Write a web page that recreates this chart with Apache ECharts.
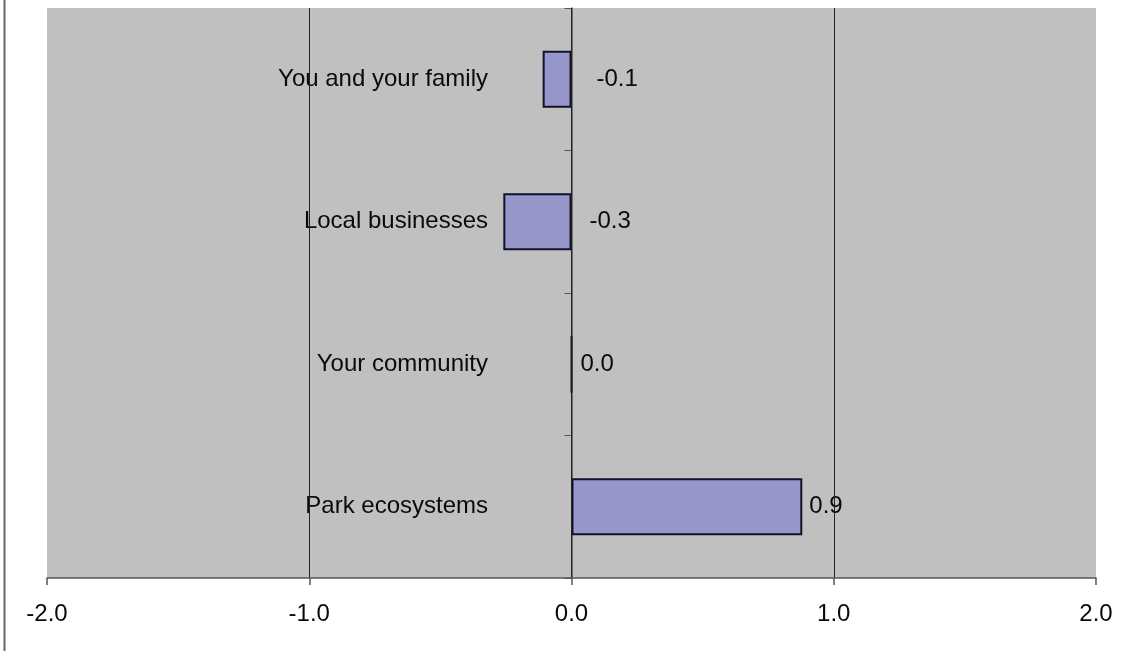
<!DOCTYPE html>
<html>
<head>
<meta charset="utf-8">
<script src="https://cdn.jsdelivr.net/npm/echarts@6/dist/echarts.min.js"></script>
<style>
  html, body { margin: 0; padding: 0; background: #fff; }
  #chart { width: 1127px; height: 651px; }
</style>
</head>
<body>
<div id="chart"></div>
<script>
// Categories listed top to bottom
const categories = ['You and your family', 'Local businesses', 'Your community', 'Park ecosystems'];
const values = [-0.11, -0.26, 0.0, 0.88];
// gap between the bar end and its value label
const labelGap = [25, 18, 8, 7];
const xTicks = { min: -2, max: 2, interval: 1 };

const font = '"Liberation Sans", Arial, sans-serif';
const fontSize = 24;
const textColor = '#0a0a0a';

const chart = echarts.init(document.getElementById('chart'), null, { renderer: 'canvas' });

chart.setOption({
  animation: false,
  backgroundColor: '#ffffff',
  graphic: [{
    type: 'line',
    shape: { x1: 4.5, y1: 0, x2: 4.5, y2: 651 },
    style: { stroke: '#666', lineWidth: 2 }
  }],
  grid: {
    left: 47, right: 31, top: 8, bottom: 73,
    containLabel: false,
    outerBoundsMode: 'none',
    show: true, backgroundColor: '#C0C0C0', borderWidth: 0
  },
  xAxis: {
    type: 'value',
    min: xTicks.min, max: xTicks.max, interval: xTicks.interval,
    z: 3,
    axisLine: { show: true, lineStyle: { color: '#555', width: 1.5 } },
    axisTick: { show: true, length: 7, lineStyle: { color: '#555', width: 1.5 } },
    axisLabel: {
      margin: 24, color: textColor, fontSize: fontSize, fontFamily: font,
      formatter: v => v.toFixed(1)
    },
    splitLine: { show: true, showMinLine: false, showMaxLine: false, lineStyle: { color: '#222', width: 1 } }
  },
  yAxis: {
    type: 'category',
    data: categories,
    inverse: true,
    z: 1,
    axisLine: { show: true, onZero: true, lineStyle: { color: '#555', width: 1.5 } },
    axisTick: { show: true, length: 7, lineStyle: { color: '#555', width: 1 } },
    // labels sit at the grid's left edge, so a negative margin pulls them in next to the zero line
    axisLabel: { margin: -441, color: textColor, fontSize: fontSize, fontFamily: font },
    splitLine: { show: false }
  },
  series: [{
    type: 'bar',
    z: 2,
    barWidth: '40%',
    data: values.map((v, i) => ({
      value: v,
      label: { distance: labelGap[i] }
    })),
    itemStyle: { color: '#9797CB', borderColor: '#12122a', borderWidth: 2 },
    label: {
      show: true,
      position: 'right',
      color: textColor,
      fontSize: fontSize,
      fontFamily: font,
      formatter: p => p.value.toFixed(1)
    }
  }]
});
</script>
</body>
</html>
